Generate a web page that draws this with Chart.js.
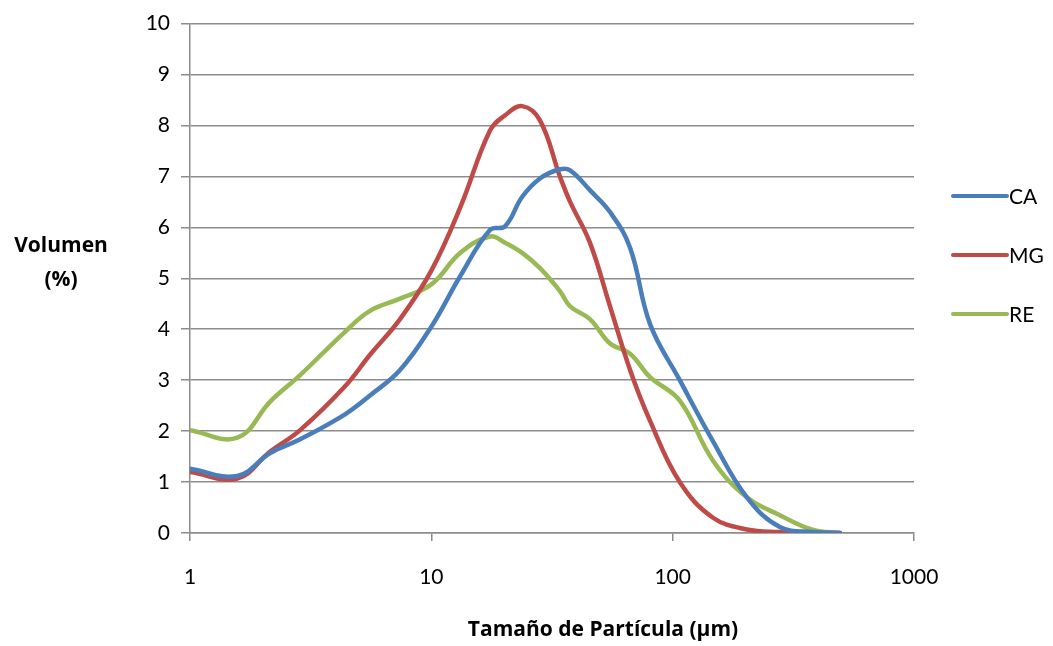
<!DOCTYPE html>
<html>
<head>
<meta charset="utf-8">
<script src="https://cdn.jsdelivr.net/npm/chart.js@4"></script>
<style>
  html, body { margin: 0; padding: 0; background: #fff; }
  #wrap { width: 1053px; height: 646px; position: relative; }
</style>
</head>
<body>
<div id="wrap"><canvas id="psdChart"></canvas></div>
<script>
// particle size (µm), shared by the three series
const sizes = [1, 1.57, 2.15, 2.86, 4.39, 5.57, 7.42, 10, 13.2, 17.5, 20.2, 23.8, 28.2, 34.1, 37.6, 45.4, 55, 66.6, 80.6, 107, 147, 203, 278, 382, 494];
const seriesCA = [1.26, 1.12, 1.57, 1.84, 2.33, 2.7, 3.2, 4.05, 5.05, 5.95, 6.02, 6.6, 6.96, 7.14, 7.12, 6.73, 6.3, 5.6, 4.1, 3.0, 1.8, 0.7, 0.12, 0.02, 0];
const seriesMG = [1.2, 1.07, 1.6, 2.02, 2.88, 3.5, 4.2, 5.15, 6.4, 7.9, 8.2, 8.38, 8.1, 7.0, 6.5, 5.7, 4.45, 3.2, 2.2, 1.0, 0.3, 0.07, 0.02, 0, 0];
const seriesRE = [2.02, 1.87, 2.58, 3.1, 3.95, 4.36, 4.6, 4.88, 5.5, 5.82, 5.7, 5.5, 5.2, 4.75, 4.45, 4.2, 3.72, 3.52, 3.06, 2.6, 1.42, 0.7, 0.35, 0.06, 0];
const seriesNames = ['CA', 'MG', 'RE'];
const xTicks = [1, 10, 100, 1000];
const yTicks = [0, 1, 2, 3, 4, 5, 6, 7, 8, 9, 10];

const colors = ['#4a7ebb', '#be4b48', '#98b954'];
const gridGray = '#8c8c8c';
const tickFont = 'Lato, "Open Sans", sans-serif';
const titleFont = '"Open Sans", Lato, sans-serif';

function toPoints(vals) {
  return sizes.map((s, i) => ({ x: s, y: vals[i] }));
}

// legend, y title and x title drawn by hand
const sideText = {
  id: 'sideText',
  afterDraw(chart) {
    const ctx = chart.ctx;
    ctx.save();
    ctx.fillStyle = '#000';
    ctx.font = 'bold 21px ' + titleFont;
    ctx.textAlign = 'center';
    ctx.textBaseline = 'middle';
    ctx.fillText('Volumen', 61, 246);
    ctx.fillText('(%)', 61, 280);
    ctx.fillText('Tamaño de Partícula (µm)', 603, 630);

    ctx.font = '21px ' + tickFont;
    ctx.textAlign = 'left';
    chart.data.datasets.forEach((ds, i) => {
      const y = 196 + i * 59;
      ctx.strokeStyle = ds.borderColor;
      ctx.lineWidth = 4;
      ctx.lineCap = 'round';
      ctx.beginPath();
      ctx.moveTo(953, y);
      ctx.lineTo(1007, y);
      ctx.stroke();
      ctx.fillText(ds.label, 1009, y + 1);
    });
    ctx.restore();
  }
};

const ctx = document.getElementById('psdChart').getContext('2d');
new Chart(ctx, {
  type: 'scatter',
  data: {
    datasets: [seriesCA, seriesMG, seriesRE].map((vals, i) => ({
      label: seriesNames[i],
      data: toPoints(vals),
      showLine: true,
      borderColor: colors[i],
      backgroundColor: colors[i],
      borderWidth: 4.5,
      pointRadius: 0,
      tension: 0.4,
      borderCapStyle: 'round'
    }))
  },
  options: {
    responsive: true,
    maintainAspectRatio: false,
    animation: false,
    layout: { padding: { top: 19, right: 139, left: 0, bottom: 0 } },
    plugins: {
      legend: { display: false },
      tooltip: { enabled: false }
    },
    scales: {
      x: {
        type: 'logarithmic',
        min: 1,
        max: 1000,
        afterBuildTicks: (scale) => { scale.ticks = xTicks.map(v => ({ value: v })); },
        afterFit: (scale) => { scale.height = 113; },
        grid: { drawOnChartArea: false, color: gridGray, lineWidth: 1.5, tickLength: 8 },
        border: { color: gridGray, width: 1.5 },
        ticks: {
          color: '#000',
          padding: 24,
          maxRotation: 0,
          font: { family: tickFont, size: 21 },
          callback: (v) => String(v)
        }
      },
      y: {
        min: 0,
        max: 10,
        afterBuildTicks: (scale) => { scale.ticks = yTicks.map(v => ({ value: v })); },
        afterFit: (scale) => { scale.width = 190; },
        grid: { color: gridGray, lineWidth: 1.5, tickLength: 9 },
        border: { color: gridGray, width: 1.5 },
        ticks: {
          color: '#000',
          padding: 11,
          font: { family: tickFont, size: 21 }
        }
      }
    }
  },
  plugins: [sideText]
});
</script>
</body>
</html>
